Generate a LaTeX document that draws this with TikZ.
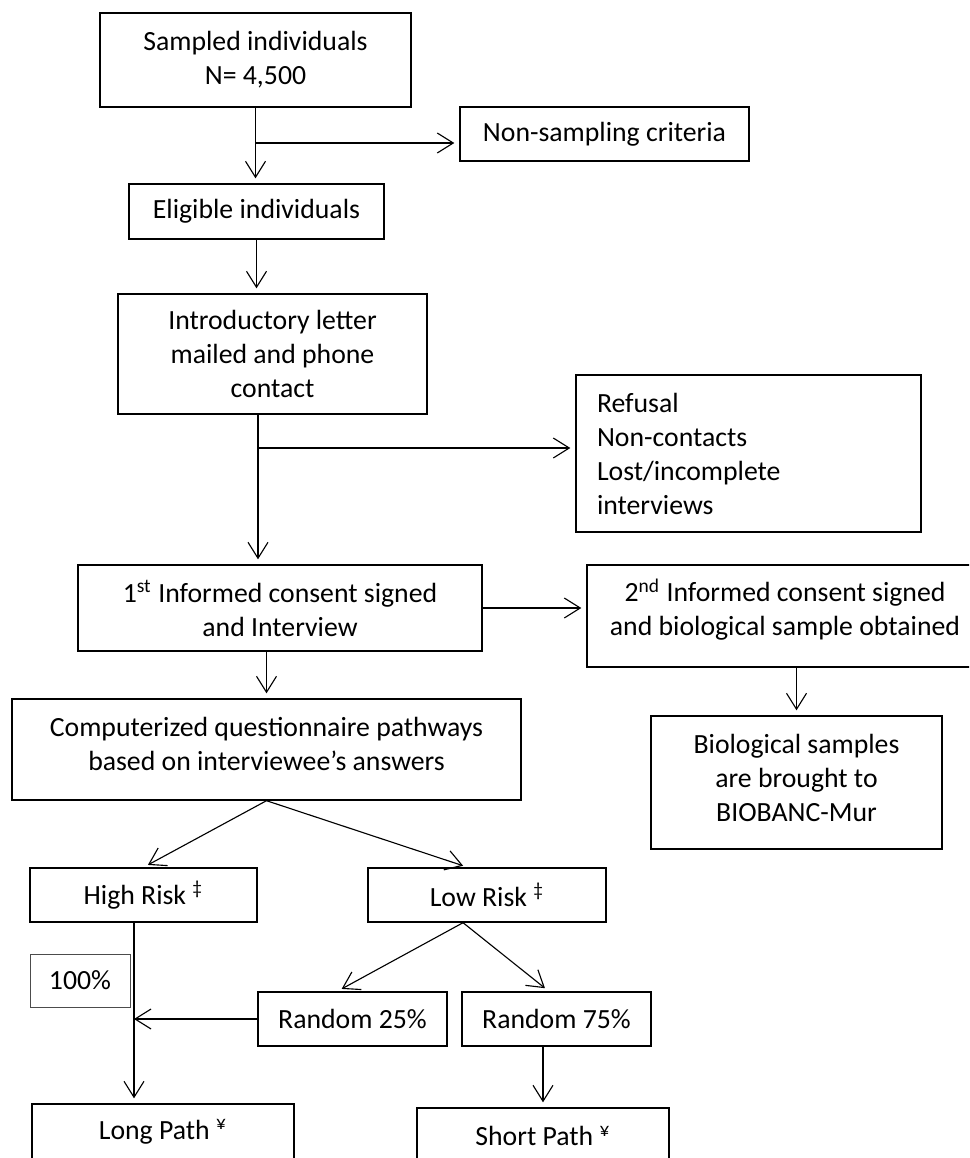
\documentclass[tikz,border=0pt]{standalone}
\usepackage{fontspec}
\setmainfont{Carlito}
\usepackage{tikz}
\usetikzlibrary{calc,positioning,arrows.meta}

\begin{document}
\begin{tikzpicture}[align=center, x=0.4pt, y=-0.4pt,
    font=\fontsize{11.1pt}{13.6pt}\selectfont,
    box/.style={draw, line width=0.55pt, inner sep=0pt},
    flow/.style={-{Straight Barb[length=6.4pt, width=8pt]}, line width=0.45pt, shorten >=2pt}]
    \useasboundingbox (0,0) rectangle (969,1158);
    \clip (0,0) rectangle (969,1158);

    \node [box, minimum width=124.4pt, minimum height=37.6pt] (sampled) at (255.5,60) {Sampled individuals\\N= 4,500};
    \node [box, minimum width=115.6pt, minimum height=21.6pt] (non_sampling) at (604.5,134) {Non-sampling criteria};
    \node [box, minimum width=102pt, minimum height=22pt] (eligible) at (256.5,211.5) {Eligible individuals};
    \node [box, minimum width=123.6pt, minimum height=48pt] (intro_letter) at (272.5,354) {Introductory letter\\mailed and phone\\contact};
    \node [box, align=left, text width=121.2pt, inner xsep=8.4pt, minimum height=62.8pt] (refusal) at (748.5,453.5) {Refusal\\Non-contacts\\Lost/incomplete\\interviews};
    \node [box, minimum width=161.6pt, minimum height=34.4pt] (consent_first) at (280,608) {1\textsuperscript{st} Informed consent signed\\and Interview};
    \node [box, minimum width=158.4pt, minimum height=40.8pt, text depth=7pt] (consent_second) at (785,616) {2\textsuperscript{nd} Informed consent signed\\and biological sample obtained};
    \node [box, minimum width=116.4pt, minimum height=53.2pt, text depth=4pt] (bio_samples) at (796.5,782.5) {Biological samples\\are brought to\\BIOBANC-Mur};
    \node [box, minimum width=203.6pt, minimum height=40.4pt, text depth=4.8pt] (questionnaire) at (266.5,749.5) {Computerized questionnaire pathways\\based on interviewee’s answers};

    \node [box, minimum width=90.8pt, minimum height=21.6pt] (high_risk) at (143.5,895) {High Risk \textsuperscript{‡}};
    \node [box, minimum width=95.2pt, minimum height=21.6pt] (low_risk) at (487,895) {Low Risk \textsuperscript{‡}};
    \node [box, draw=black!70, line width=0.35pt, minimum width=40pt, minimum height=21.2pt] (hundred) at (80,980.5) {100\%};
    \node [box, minimum width=75.6pt, minimum height=21.6pt] (random_25) at (352.5,1019) {Random 25\%};
    \node [box, minimum width=75.6pt, minimum height=21.6pt] (random_75) at (556.5,1019) {Random 75\%};
    \node [box, minimum width=104.8pt, minimum height=22.4pt] (long_path) at (163,1132) {Long Path \textsuperscript{¥}};
    \node [box, minimum width=100.8pt, minimum height=22.4pt] (short_path) at (543,1136) {Short Path \textsuperscript{¥}};

    \coordinate (split_top) at (255.5,143);
    \coordinate (split_mid) at (258,448);
    \coordinate (low_fork) at ($(low_risk.south west)!.4!(low_risk.south east)$);
    \coordinate (join) at (134,1019);

    \draw [flow] (sampled.south) -- (sampled.south |- eligible.north);
    \draw [flow] (split_top) -- (non_sampling.west |- split_top);
    \draw [flow] (eligible.south) -- (eligible.south |- intro_letter.north);
    \draw [flow] (intro_letter.south -| split_mid) -- (consent_first.north -| split_mid);
    \draw [flow] (split_mid) -- (refusal.west |- split_mid);
    \draw [flow] (consent_first.east) -- (consent_second.west |- consent_first.east);
    \draw [flow] (consent_second.south -| bio_samples.north) -- (bio_samples.north);
    \draw [flow] (consent_first.south -| questionnaire.north) -- (questionnaire.north);

    \draw [flow] (questionnaire.south) -- (high_risk.north);
    \draw [flow] (questionnaire.south) -- ($(low_risk.north west)!.42!(low_risk.north east)$);
    \draw [flow] (low_fork) -- ($(random_25.north west)!.42!(random_25.north east)$);
    \draw [flow] (low_fork) -- ($(random_75.north west)!.46!(random_75.north east)$);
    \draw [flow] (high_risk.south -| join) -- (long_path.north -| join);
    \draw [flow, shorten >=0pt] (random_25.west) -- (join);
    \draw [flow] (random_75.south -| short_path.north) -- (short_path.north);
\end{tikzpicture}
\end{document}
